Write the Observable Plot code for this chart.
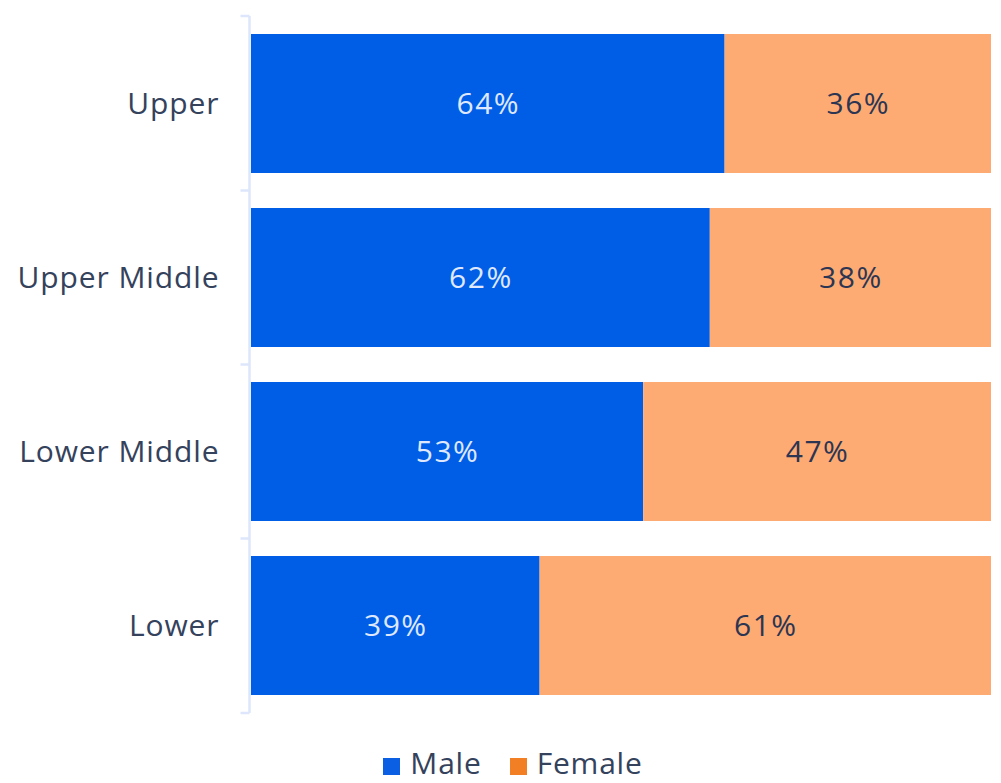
<!DOCTYPE html>
<html>
<head>
<meta charset="utf-8">
<script src="https://cdn.jsdelivr.net/npm/d3@7"></script>
<script src="https://cdn.jsdelivr.net/npm/@observablehq/plot@0.6"></script>
<style>
  body { margin: 0; background: #fff; font-family: "Open Sans", "Noto Sans", sans-serif; overflow: hidden; }
  #chart svg text { letter-spacing: 0.9px; }
  #legend { display: flex; justify-content: center; gap: 28px; padding-left: 25px; margin-top: 18px;
    font-size: 30px; line-height: 30px; letter-spacing: 0.8px; color: #34425c; align-items: center; }
  #legend span.item { display: flex; align-items: center; }
  #legend span.sw { display: inline-block; width: 17px; height: 17px; margin-right: 10px; margin-top: 6px; }
</style>
</head>
<body>
<div id="chart"></div>
<div id="legend"></div>
<script>
const categories = ["Upper", "Upper Middle", "Lower Middle", "Lower"];
const series = ["Male", "Female"];
const male = [64, 62, 53, 39];
const female = [36, 38, 47, 61];
const barColors = ["#005ee6", "#fdab72"];
const legendColors = ["#0a5fe3", "#f27f24"];
const labelColors = ["#dfe8ff", "#2c3552"];

const data = [];
categories.forEach((c, i) => {
  data.push({cls: c, sex: "Male", value: male[i]});
  data.push({cls: c, sex: "Female", value: female[i]});
});

function bandAxis(index, scales, values, dims) {
  const y = scales.y;
  const g = d3.create("svg:g");
  const r = scales.scales.y.range;
  const x0 = dims.marginLeft - 1.5;
  g.append("line").attr("x1", x0).attr("x2", x0).attr("y1", r[0]).attr("y2", r[1])
    .attr("stroke", "#dde6fb").attr("stroke-width", 2.5);
  const bw = scales.scales.y.bandwidth;
  const st = scales.scales.y.step;
  for (let k = 0; k <= categories.length; k++) {
    const yy = k === 0 ? r[0] : (k === categories.length ? r[1] : y(categories[k]) - (st - bw) / 2);
    g.append("line").attr("x1", x0 - 9).attr("x2", x0).attr("y1", yy).attr("y2", yy)
      .attr("stroke", "#dde6fb").attr("stroke-width", 2.5);
  }
  return g.node();
}

const chart = Plot.plot({
  width: 1001,
  height: 730,
  marginLeft: 251,
  marginRight: 10,
  marginTop: 16,
  marginBottom: 17,
  style: { fontFamily: "'Open Sans', 'Noto Sans', sans-serif", background: "#fff" },
  x: { domain: [0, 100], axis: null },
  y: { domain: categories, paddingInner: 0.2, paddingOuter: 0.1, label: null },
  color: { domain: series, range: barColors },
  marks: [
    Plot.axisY({ tickSize: 0, tickPadding: 32, fontSize: 30, fill: "#34425c", label: null }),
    Plot.barX(data, Plot.stackX({ x: "value", y: "cls", fill: "sex", order: series })),
    Plot.text(data, Plot.stackX({ x: "value", y: "cls", z: "sex", order: series,
      text: d => d.value + "%", fill: d => labelColors[series.indexOf(d.sex)], fontSize: 30 })),
    bandAxis
  ]
});
document.getElementById("chart").appendChild(chart);
d3.select(chart).selectAll("g[aria-label='text'] text").style("letter-spacing", "1.5px");

const lg = d3.select("#legend");
series.forEach((s, i) => {
  const it = lg.append("span").attr("class", "item");
  it.append("span").attr("class", "sw").style("background", legendColors[i]);
  it.append("span").text(s);
});
</script>
</body>
</html>
